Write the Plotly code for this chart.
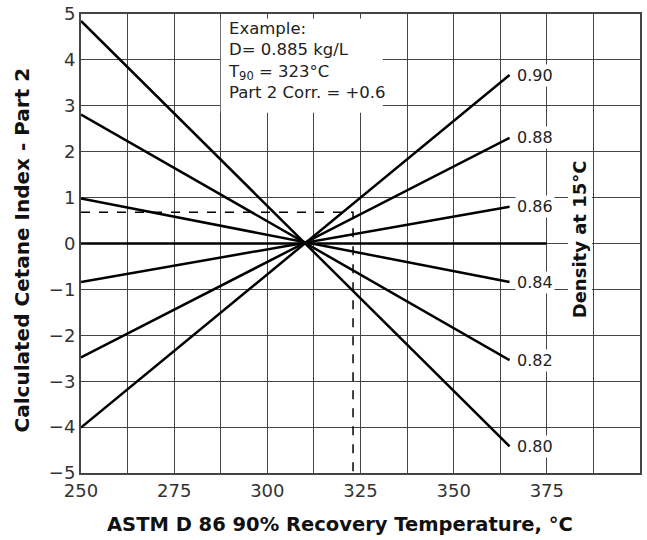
import plotly.graph_objects as go

# Data
densities = ["0.80", "0.82", "0.84", "0.86", "0.88", "0.90"]
t_start = 250
t_end = 365
corr_at_start = [4.85, 2.81, 0.98, -0.84, -2.48, -4.01]
corr_at_end = [-4.42, -2.54, -0.84, 0.80, 2.30, 3.67]
zero_line_x = [250, 375]
zero_line_y = [0, 0]

example_t90 = 323
example_corr = 0.68

x_tickvals = [250, 275, 300, 325, 350, 375]
x_ticktext = ["250", "275", "300", "325", "350", "375"]
y_tickvals = list(range(-5, 6))

font_family = "DejaVu Sans"

fig = go.Figure()

for d, a, b in zip(densities, corr_at_start, corr_at_end):
    fig.add_trace(go.Scatter(x=[t_start, t_end], y=[a, b], mode="lines",
                             line=dict(color="black", width=2.5), showlegend=False,
                             hoverinfo="skip"))
    fig.add_annotation(x=t_end, y=b, text=d, showarrow=False, xanchor="left",
                       xshift=5, font=dict(family=font_family, size=16, color="#222"),
                       bgcolor="white", borderpad=1)

fig.add_trace(go.Scatter(x=zero_line_x, y=zero_line_y, mode="lines",
                         line=dict(color="black", width=2.5), showlegend=False,
                         hoverinfo="skip"))

# example dashed lines
fig.add_trace(go.Scatter(x=[250, example_t90, example_t90], y=[example_corr, example_corr, -5],
                         mode="lines", line=dict(color="black", width=1.5, dash="dash"),
                         showlegend=False, hoverinfo="skip"))

# Example box
fig.add_shape(type="rect", xref="x", yref="y", x0=287.5, x1=331, y0=2.85, y1=4.9,
              fillcolor="white", line=dict(width=0), layer="between")
fig.add_annotation(x=288.8, y=4.93, xref="x", yref="y", xanchor="left", yanchor="top",
                   showarrow=False, align="left",
                   text="Example:<br>D= 0.885 kg/L<br>T<sub>90</sub> = 323°C<br>Part 2 Corr. = +0.6",
                   font=dict(family=font_family, size=16.5, color="#222"))

# right title
fig.add_annotation(x=384, y=0.1, xref="x", yref="y", text="<b>Density at 15°C</b>",
                   textangle=-90, showarrow=False, bgcolor="white",
                   font=dict(family=font_family, size=18, color="#111"))

# axis titles
fig.add_annotation(x=319.5, y=-0.113, xref="x", yref="paper", yanchor="middle",
                   text="<b>ASTM D 86 90% Recovery Temperature, °C</b>", showarrow=False,
                   font=dict(family=font_family, size=19.5, color="#111"))
fig.add_annotation(x=-0.1055, y=-0.15, xref="paper", yref="y", xanchor="center",
                   text="<b>Calculated Cetane Index - Part 2</b>", showarrow=False,
                   textangle=-90, font=dict(family=font_family, size=20, color="#111"))

grid_color = "#444"
fig.update_layout(
    width=647, height=540,
    margin=dict(l=81, r=7, t=14, b=67),
    paper_bgcolor="white", plot_bgcolor="white",
    font=dict(family=font_family, size=17, color="#333"),
    xaxis=dict(range=[250, 400], tickvals=x_tickvals, ticktext=x_ticktext,
               showgrid=True, gridcolor=grid_color, gridwidth=1.3,
               minor=dict(dtick=12.5, tick0=250, showgrid=True, gridcolor=grid_color, gridwidth=1.3, ticks=""),
               showline=True, linecolor=grid_color, linewidth=2, mirror=True,
               zeroline=False, ticks="", tickfont=dict(size=18, color="#333"),
               automargin=False, ticklabeloverflow="allow"),
    yaxis=dict(range=[-5, 5], tickvals=y_tickvals,
               showgrid=True, gridcolor=grid_color, gridwidth=1.3,
               showline=True, linecolor=grid_color, linewidth=2, mirror=True,
               zeroline=False, ticks="", tickfont=dict(size=18, color="#333"),
               automargin=False, ticklabeloverflow="allow"),
)

fig.write_html("out.html", config={"displayModeBar": False},
               post_script="document.body.style.margin='0px';")
